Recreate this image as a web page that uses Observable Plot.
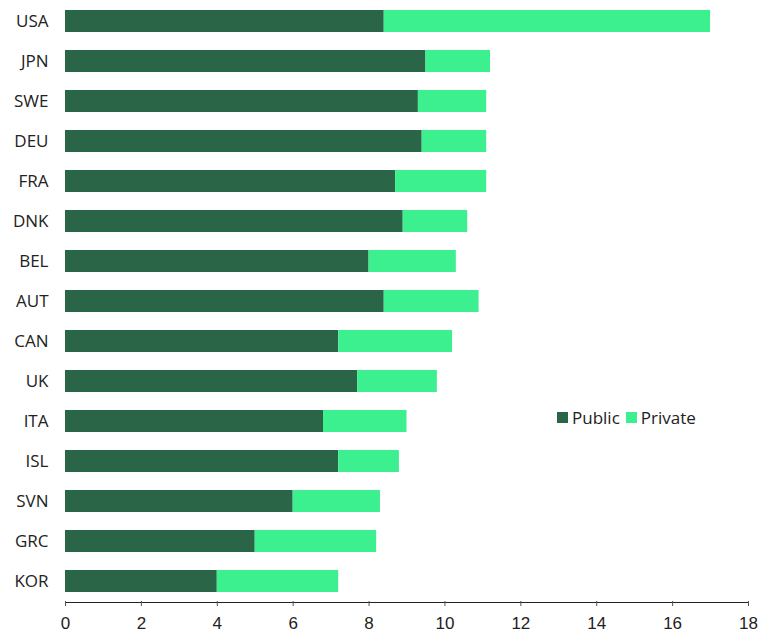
<!DOCTYPE html>
<html><head><meta charset="utf-8">
<script src="https://cdn.jsdelivr.net/npm/d3@7"></script>
<script src="https://cdn.jsdelivr.net/npm/@observablehq/plot@0.6"></script>
<style>
body{margin:0;background:#fff;}
#wrap{position:relative;width:760px;height:633px;}
#legend{position:absolute;left:557px;top:406px;font-family:"Open Sans",sans-serif;font-size:17px;color:#222;display:flex;align-items:center;}
#legend span.sw{display:inline-block;width:11px;height:11px;margin-right:4px;}
#legend span.lab{margin-right:6px;}
</style></head>
<body><div id="wrap"><div id="legend"></div></div>
<script>
const countries = ["USA","JPN","SWE","DEU","FRA","DNK","BEL","AUT","CAN","UK","ITA","ISL","SVN","GRC","KOR"];
const publicVals = [8.4,9.5,9.3,9.4,8.7,8.9,8.0,8.4,7.2,7.7,6.8,7.2,6.0,5.0,4.0];
const totalVals = [17.0,11.2,11.1,11.1,11.1,10.6,10.3,10.9,10.2,9.8,9.0,8.8,8.3,8.2,7.2];
const seriesNames = ["Public","Private"];
const seriesColors = ["#2a6547","#3cf08f"];
const xTicks = [0,2,4,6,8,10,12,14,16,18];

const data = [];
countries.forEach((c,i)=>{
  data.push({country:c, series:"Public", value:publicVals[i]});
  data.push({country:c, series:"Private", value:+(totalVals[i]-publicVals[i]).toFixed(2)});
});

const chart = Plot.plot({
  width:760, height:633,
  marginTop:1, marginBottom:32, marginLeft:65, marginRight:12,
  style:{color:"#222"},
  x:{domain:[0,18], ticks:xTicks, label:null},
  y:{domain:countries, label:null, paddingInner:0.45, paddingOuter:0.225},
  color:{domain:seriesNames, range:seriesColors},
  marks:[
    Plot.barX(data, Plot.stackX({x:"value", y:"country", fill:"series", order:seriesNames})),
    Plot.frame({anchor:"bottom", stroke:"#222", dy:1}),
    Plot.axisX({ticks:xTicks, tickSize:5, tickPadding:10, stroke:"#555", label:null,
      fontSize:17, fontFamily:"'Liberation Sans',Arial,sans-serif"}),
    Plot.axisY({tickSize:0, tickPadding:17, label:null, fontSize:17, fontFamily:"'Open Sans',sans-serif"})
  ]
});
const wrap = document.getElementById("wrap");
wrap.insertBefore(chart, wrap.firstChild);

const lg = document.getElementById("legend");
seriesNames.forEach((s,i)=>{
  const sw=document.createElement("span");sw.className="sw";sw.style.background=seriesColors[i];
  const lb=document.createElement("span");lb.className="lab";lb.textContent=s;
  lg.appendChild(sw);lg.appendChild(lb);
});
</script></body></html>
